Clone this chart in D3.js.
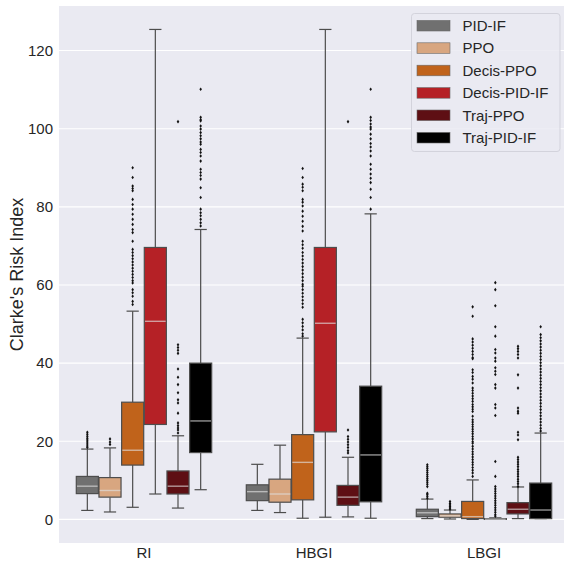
<!DOCTYPE html>
<html><head><meta charset="utf-8">
<script src="https://cdn.jsdelivr.net/npm/d3@7"></script>
<style>html,body{margin:0;padding:0;background:#fff;}svg{display:block;font-family:"Liberation Sans",Arial,sans-serif;}</style>
</head><body>
<svg id="chart" width="564" height="563"></svg>
<script>
// ---- data ----
const categories = ["RI", "HBGI", "LBGI"];
const seriesNames = ["PID-IF", "PPO", "Decis-PPO", "Decis-PID-IF", "Traj-PPO", "Traj-PID-IF"];
const palette = ["#707070", "#d8a680", "#c0631b", "#b52126", "#5e0f14", "#000000"];
const yTicks = [0, 20, 40, 60, 80, 100, 120];

// box stats per category: [whiskerLow, q1, median, q3, whiskerHigh]
const statsPidIf      = [[2.3, 6.6, 8.5, 11.0, 18.0], [2.3, 4.8, 7.1, 8.85, 14.1], [0.2, 0.7, 1.7, 2.6, 5.2]];
const statsPpo        = [[1.9, 5.7, 7.4, 10.7, 18.3], [1.75, 4.4, 6.5, 10.3, 19.0], [0.1, 0.56, 0.9, 1.4, 2.4]];
const statsDecisPpo   = [[3.1, 13.9, 17.7, 30.0, 53.3], [0.3, 5.0, 14.6, 21.7, 46.4], [0.0, 0.2, 0.7, 4.6, 10.1]];
const statsDecisPidIf = [[6.5, 24.3, 50.7, 69.6, 125.4], [0.56, 22.4, 50.2, 69.6, 125.4], [0.0, 0.0, 0.05, 0.2, 0.4]];
const statsTrajPpo    = [[2.9, 6.5, 8.5, 12.4, 21.4], [0.64, 3.6, 5.7, 8.7, 15.9], [0.2, 1.4, 2.6, 4.3, 8.3]];
const statsTrajPidIf  = [[7.6, 17.1, 25.2, 40.0, 74.2], [0.3, 4.5, 16.5, 34.1, 78.2], [0.2, 0.2, 2.4, 9.3, 22.1]];

// outliers per category
const outPidIf = [
  [22.3, 21.8, 21.3, 20.8, 20.3, 19.8, 19.3, 18.8, 18.4],
  [],
  [14.0, 13.5, 13.0, 12.5, 12.0, 11.5, 11.0, 10.5, 10.0, 9.5, 9.0, 8.4, 6.7, 6.4, 5.9, 5.4]
];
const outPpo = [
  [20.6, 19.8, 19.2],
  [],
  [4.6, 4.1, 3.7, 3.3, 2.9, 2.6]
];
const outDecisPpo = [
  [90.0, 87.5, 85.3, 84.7, 84.1, 81.9, 80.6, 79.4, 78.1, 76.8, 75.5, 74.2, 73.4, 71.2, 69.1, 68.3, 67.5, 66.7, 65.9, 65.1, 64.3, 63.5, 62.7, 61.9, 61.1, 60.5, 58.8, 58.0, 57.1, 55.8, 55.0],
  [89.8, 87.5, 85.8, 85.0, 84.1, 81.9, 81.2, 80.2, 78.9, 77.6, 76.3, 75.0, 73.8, 71.2, 70.3, 69.4, 68.3, 67.4, 66.5, 65.6, 64.7, 63.8, 62.9, 62.0, 61.1, 60.2, 59.7, 58.8, 57.9, 57.0, 56.1, 55.2, 54.3, 51.2, 50.3, 49.4, 48.5, 47.5, 46.9],
  [54.4, 52.0, 46.2, 45.4, 44.6, 43.8, 43.0, 42.2, 41.4, 41.1, 38.3, 37.6, 36.6, 35.9, 34.9, 33.6, 33.0, 32.3, 31.6, 30.9, 30.2, 29.4, 28.8, 28.2, 27.6, 26.4, 25.5, 24.9, 24.3, 23.7, 23.1, 22.5, 21.9, 21.2, 20.6, 19.9, 19.5, 18.7, 18.0, 17.3, 16.7, 16.0, 15.3, 14.6, 14.0, 13.3, 12.6, 11.9, 11.0]
];
const outDecisPidIf = [
  [],
  [],
  [60.6, 58.8, 54.7, 49.3, 46.9, 43.5, 42.6, 41.3, 40.5, 38.8, 37.9, 37.1, 34.5, 33.6, 29.4, 28.5, 26.6, 14.8, 11.0, 8.4, 7.8, 7.2, 6.6, 6.0, 5.4, 4.8, 4.2, 3.6, 3.0, 2.4, 1.8, 1.2, 0.8]
];
const outTrajPpo = [
  [101.8, 44.7, 44.0, 43.3, 42.5, 38.5, 36.4, 34.5, 32.4, 30.6, 29.8, 27.2, 24.7, 24.0, 23.4, 22.9, 22.1],
  [101.8, 22.9, 21.2, 20.5, 19.8, 19.1, 18.4, 17.6, 17.0],
  [44.3, 43.7, 43.0, 42.2, 41.3, 37.0, 33.6, 28.5, 27.7, 27.2, 22.3, 21.6, 20.4, 15.9, 15.3, 14.7, 14.1, 13.5, 12.8, 12.2, 11.6, 11.0, 10.3, 9.7, 9.1, 8.4]
];
const outTrajPidIf = [
  [110.1, 102.9, 102.3, 102.0, 100.7, 99.9, 99.0, 98.2, 97.4, 96.6, 96.0, 94.7, 93.9, 93.0, 91.7, 89.6, 88.8, 88.0, 87.1, 84.9, 82.4, 79.4, 78.5, 77.7, 76.8, 75.9, 75.1],
  [110.1, 102.9, 102.1, 101.2, 100.4, 99.9, 98.6, 97.4, 96.2, 95.3, 94.3, 93.0, 90.9, 89.6, 88.4, 87.3, 86.2, 84.5, 82.4, 79.4],
  [49.3, 47.3, 46.5, 45.7, 44.9, 44.1, 43.3, 42.5, 41.7, 40.9, 40.1, 39.3, 38.5, 37.7, 36.9, 36.1, 35.3, 34.5, 33.7, 32.9, 32.1, 31.3, 30.5, 29.7, 28.9, 28.1, 27.3, 26.5, 25.7, 24.9, 24.1, 23.3, 22.6]
];

const allStats = [statsPidIf, statsPpo, statsDecisPpo, statsDecisPidIf, statsTrajPpo, statsTrajPidIf];
const allOut = [outPidIf, outPpo, outDecisPpo, outDecisPidIf, outTrajPpo, outTrajPidIf];

// ---- layout ----
const svg = d3.select("#chart");
const plot = {left: 59, right: 569, top: 6, bottom: 543};

svg.append("defs").append("clipPath").attr("id", "clip")
  .append("rect").attr("x", plot.left).attr("y", plot.top)
  .attr("width", 564 - plot.left).attr("height", plot.bottom - plot.top);

const x = d3.scaleBand().domain(categories).range([plot.left, plot.right]).paddingInner(0).paddingOuter(0);
const hue = d3.scaleBand().domain(seriesNames).range([x.bandwidth() * 0.1, x.bandwidth() * 0.9]);
const y = d3.scaleLinear().domain([-6.04, 131.4]).range([plot.bottom, plot.top]);

svg.append("rect").attr("x", plot.left).attr("y", plot.top)
  .attr("width", plot.right - plot.left).attr("height", plot.bottom - plot.top)
  .attr("fill", "#eaeaf2");

// grid
const yAxis = d3.axisLeft(y).tickValues(yTicks).tickSize(0).tickPadding(6);
const gy = svg.append("g").attr("transform", `translate(${plot.left},0)`).call(yAxis);
gy.select(".domain").remove();
gy.selectAll("text").attr("font-size", 15).attr("fill", "#262626")
  .attr("font-family", "Liberation Sans, Arial, sans-serif");
svg.append("g").selectAll("line").data(yTicks).join("line")
  .attr("x1", plot.left).attr("x2", plot.right)
  .attr("y1", d => y(d)).attr("y2", d => y(d))
  .attr("stroke", "#ffffff").attr("stroke-width", 1.1);

const xAxis = d3.axisBottom(x).tickSize(0).tickPadding(4);
const gx = svg.append("g").attr("transform", `translate(0,${plot.bottom})`).call(xAxis);
gx.select(".domain").remove();
gx.selectAll("text").attr("font-size", 15).attr("fill", "#262626")
  .attr("font-family", "Liberation Sans, Arial, sans-serif");

svg.append("text")
  .attr("transform", `translate(23,${(plot.top + plot.bottom) / 2}) rotate(-90)`)
  .attr("text-anchor", "middle")
  .attr("font-size", 18).attr("fill", "#262626")
  .text("Clarke's Risk Index");

// boxes
const marks = svg.append("g").attr("clip-path", "url(#clip)");
const lineColor = "#4d4d4d";
seriesNames.forEach((s, si) => {
  categories.forEach((c, ci) => {
    const st = allStats[si][ci];
    const x0 = x(c) + hue(s);
    const w = hue.bandwidth();
    const cx = x0 + w / 2;
    const g = marks.append("g");
    // whiskers
    g.append("line").attr("x1", cx).attr("x2", cx).attr("y1", y(st[0])).attr("y2", y(st[1]))
      .attr("stroke", lineColor).attr("stroke-width", 1.2);
    g.append("line").attr("x1", cx).attr("x2", cx).attr("y1", y(st[3])).attr("y2", y(st[4]))
      .attr("stroke", lineColor).attr("stroke-width", 1.2);
    // caps
    [st[0], st[4]].forEach(v => {
      g.append("line").attr("x1", cx - w * 0.27).attr("x2", cx + w * 0.27)
        .attr("y1", y(v)).attr("y2", y(v))
        .attr("stroke", lineColor).attr("stroke-width", 1.2);
    });
    // box
    g.append("rect").attr("x", x0 + 0.3).attr("width", w - 0.6)
      .attr("y", y(st[3])).attr("height", Math.max(0.5, y(st[1]) - y(st[3])))
      .attr("fill", palette[si]).attr("stroke", lineColor).attr("stroke-width", 1.2);
    // median
    g.append("line").attr("x1", x0 + 1).attr("x2", x0 + w - 1)
      .attr("y1", y(st[2])).attr("y2", y(st[2]))
      .attr("stroke", "rgba(225,225,225,0.65)").attr("stroke-width", 1.4);
    // fliers
    g.selectAll("path.flier").data(allOut[si][ci]).join("path")
      .attr("class", "flier")
      .attr("d", d => `M${cx},${y(d) - 1.8}L${cx + 1.3},${y(d)}L${cx},${y(d) + 1.8}L${cx - 1.3},${y(d)}Z`)
      .attr("fill", "#111");
  });
});

// legend
const lg = svg.append("g");
lg.append("rect").attr("x", 411.5).attr("y", 13.5).attr("width", 148.5).attr("height", 138)
  .attr("rx", 3).attr("fill", "#eaeaf2").attr("fill-opacity", 0.85)
  .attr("stroke", "#d3d3dc").attr("stroke-width", 1);
seriesNames.forEach((s, i) => {
  const cy = 25.7 + i * 22.4;
  lg.append("rect").attr("x", 417).attr("y", cy - 5.3).attr("width", 33).attr("height", 10.6)
    .attr("fill", palette[i]).attr("stroke", "#6a6a6a").attr("stroke-width", 0.6);
  lg.append("text").attr("x", 462.5).attr("y", cy + 5.3)
    .attr("font-size", 15).attr("fill", "#262626").text(s);
});
</script>
</body></html>
